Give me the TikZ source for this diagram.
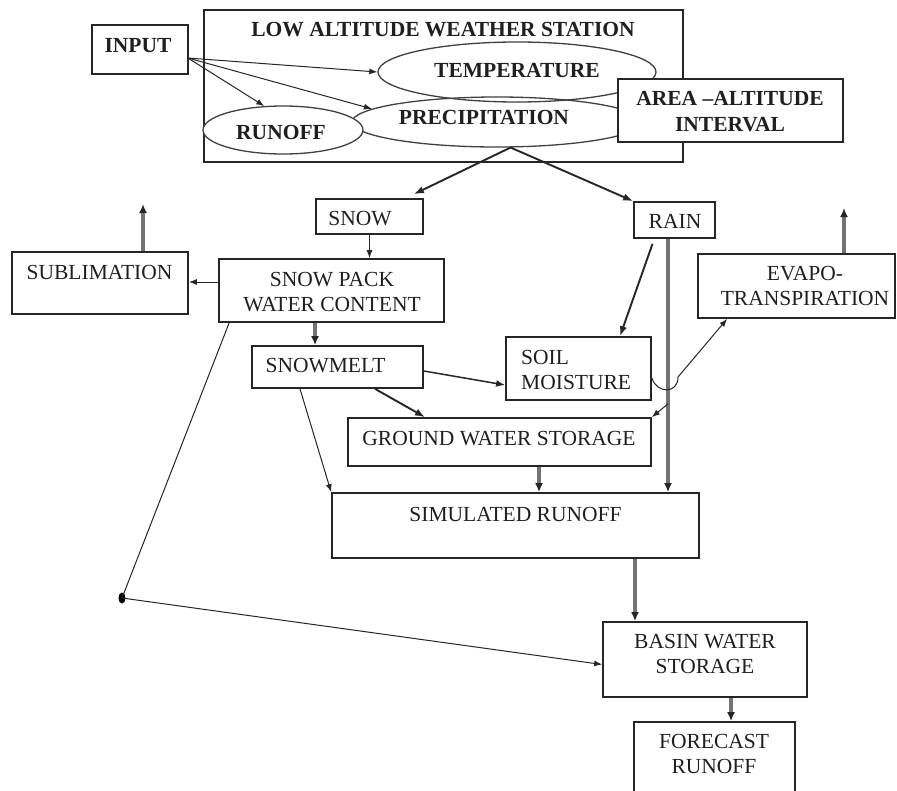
\documentclass[tikz,border=0pt]{standalone}
\usepackage{fontspec}
\setmainfont{Liberation Serif}
\usetikzlibrary{arrows.meta,shapes.geometric,calc}
\begin{document}
\begin{tikzpicture}[x=1pt,y=-1pt,
  every node/.style={font=\fontsize{21.5}{25}\selectfont, text=black!88},
  box/.style={draw=black!85, line width=1.7pt, rectangle, inner sep=0pt, fill=white},
  oval/.style={draw=black!75, line width=1.3pt, ellipse, inner sep=0pt},
  lbl/.style={inner sep=0pt, align=center},
  thinarrow/.style={draw=black!85, line width=1pt, -{Latex[length=8pt,width=6pt]}},
  midarrow/.style={draw=black!85, line width=1.5pt, -{Latex[length=9pt,width=7pt]}},
  thickarrow/.style={draw=black!85, line width=1.9pt, -{Latex[length=10pt,width=7.5pt]}},
  grayarrow/.style={draw=black!55, line width=3.2pt, -{Latex[length=9pt,width=8pt,black!85]}},
]
\useasboundingbox (0,0) rectangle (897,790);
\clip (0,0) rectangle (897,790);
\fill[white] (0,0) rectangle (897,790);

% weather station group
\node[box, minimum width=479pt, minimum height=152pt] (lows) at (443.5,86) {};
\node[lbl, font=\fontsize{21.5}{25}\selectfont\bfseries] (lowst) at (443,30) {LOW ALTITUDE WEATHER STATION};
\node[oval, minimum width=278pt, minimum height=60pt] (temp) at (517,72) {};
\node[lbl, font=\fontsize{21.5}{25}\selectfont\bfseries] (tempt) at (517,71) {TEMPERATURE};
\node[oval, minimum width=290pt, minimum height=50pt] (precip) at (497,122) {};
\node[lbl, font=\fontsize{21.5}{25}\selectfont\bfseries] (precipt) at (484,117) {PRECIPITATION};
\node[oval, fill=white, minimum width=160pt, minimum height=48pt] (runoff) at (283,130) {};
\node[lbl, font=\fontsize{21.5}{25}\selectfont\bfseries] (runofft) at (281,132) {RUNOFF};
\node[box, minimum width=225pt, minimum height=63pt] (area) at (730.5,110.5) {};
\node[lbl, font=\fontsize{21.5}{26}\selectfont\bfseries] (areat) at (730,112) {AREA --ALTITUDE\\INTERVAL};

\node[box, minimum width=96pt, minimum height=49pt] (input) at (140,49.5) {};
\node[lbl, font=\fontsize{21.5}{25}\selectfont\bfseries] (inputt) at (138,46) {INPUT};

% boxes
\node[box, minimum width=107pt, minimum height=35pt] (snow) at (369.5,216.5) {};
\node[lbl] (snowt) at (360,219) {SNOW};
\node[box, minimum width=81pt, minimum height=36pt] (rain) at (674.5,220) {};
\node[lbl] (raint) at (675,221) {RAIN};
\node[box, minimum width=176pt, minimum height=62pt] (sub) at (100,283) {};
\node[lbl] (subt) at (99.5,272) {SUBLIMATION};
\node[box, minimum width=225pt, minimum height=63pt] (pack) at (331.5,290.5) {};
\node[lbl] (packt) at (332,292.5) {SNOW PACK\\WATER CONTENT};
\node[box, minimum width=171pt, minimum height=42pt] (melt) at (337.5,367) {};
\node[lbl] (meltt) at (325.5,366) {SNOWMELT};
\node[box, minimum width=145pt, minimum height=63pt] (soil) at (578.5,368.5) {};
\node[lbl, align=left, anchor=west] (soilt) at (521,370) {SOIL\\MOISTURE};
\node[box, minimum width=197pt, minimum height=64pt] (evapo) at (796.5,286) {};
\node[lbl] (evapot) at (805,286) {EVAPO-\\TRANSPIRATION};
\node[box, minimum width=303pt, minimum height=48pt] (gws) at (499.5,442) {};
\node[lbl] (gwst) at (499,439) {GROUND WATER STORAGE};
\node[box, minimum width=367pt, minimum height=65pt] (sim) at (515.5,525.5) {};
\node[lbl] (simt) at (515.5,514) {SIMULATED RUNOFF};
\node[box, minimum width=204pt, minimum height=75pt] (basin) at (705,659.5) {};
\node[lbl] (basint) at (705,654) {BASIN WATER\\STORAGE};
\node[box, minimum width=161pt, minimum height=100pt] (fore) at (714.5,772) {};
\node[lbl] (foret) at (714,754) {FORECAST\\RUNOFF};
\node[ellipse, fill=black, inner sep=0pt, minimum width=7pt, minimum height=11pt] (dot) at (122,598) {};

% coordinates for free ends and connector columns
\coordinate (pb) at (precip.-62);
\coordinate (subup) at (143,204);
\coordinate (evup) at (844,208);
\coordinate (rv) at ($(rain.south)+(-6.5,0)$);
\coordinate (rj) at ($(rv)+(0,165)$);
\coordinate (gx) at ($(gws.south)+(39.5,0)$);
\coordinate (sx) at ($(sim.south)+(119.5,0)$);
\coordinate (bx) at ($(basin.south)+(26,0)$);
\coordinate (px) at ($(pack.south)+(-16.5,0)$);

% input arrows
\draw[thinarrow] ($(input.east)+(-1,8.5)$) -- (temp.west);
\draw[thinarrow] ($(input.east)+(-1,8.5)$) -- (precip.174);
\draw[thinarrow] ($(input.east)+(-1,8.5)$) -- (runoff.128);

% precipitation split
\draw[thickarrow] (pb) -- ($(snow.north east)+(-10,-4)$);
\draw[thickarrow] (pb) -- (rain.north west);

% snow chain
\draw[thinarrow] (snow.south) -- (snow.south |- pack.north);
\draw[thinarrow] ($(pack.west)+(0,-8.5)$) -- ($(sub.east)+(0,-1)$);
\draw[grayarrow] (subup |- sub.north) -- (subup);
\draw[grayarrow] (evup |- evapo.north) -- (evup);
\draw[grayarrow] (px) -- (px |- melt.north);

% rain
\draw[thickarrow] ($(rain.south)+(-22,5)$) -- ($(soil.north)+(41.5,0)$);
\draw[grayarrow] (rv) -- (rv |- sim.north);
\draw[thinarrow] (rj) -- (gws.north east);

% snowmelt
\draw[midarrow] ($(melt.east)+(0,4)$) -- ($(soil.west)+(0,16.5)$);
\draw[thickarrow] ($(melt.south)+(37.5,0)$) -- ($(gws.north)+(-74.5,0)$);
\draw[thinarrow] ($(melt.south)+(-37.5,0)$) -- (sim.north west);

% soil -> evapo with hop
\draw[thinarrow] ($(soil.east)+(0,9.5)$) .. controls (657,394) and (678,394) .. (678,377) -- ($(evapo.south west)+(30,0)$);

% to simulated / basin / forecast
\draw[grayarrow] (gx) -- (gx |- sim.north);
\draw[grayarrow] (sx) -- (sx |- basin.north);
\draw[grayarrow] (bx) -- (bx |- fore.north);

% snow pack -> dot -> basin
\draw[draw=black!85, line width=1pt] ($(pack.south west)+(11,0)$) -- (dot.center);
\draw[thinarrow] (dot.center) -- ($(basin.west)+(0,5)$);
\end{tikzpicture}
\end{document}
